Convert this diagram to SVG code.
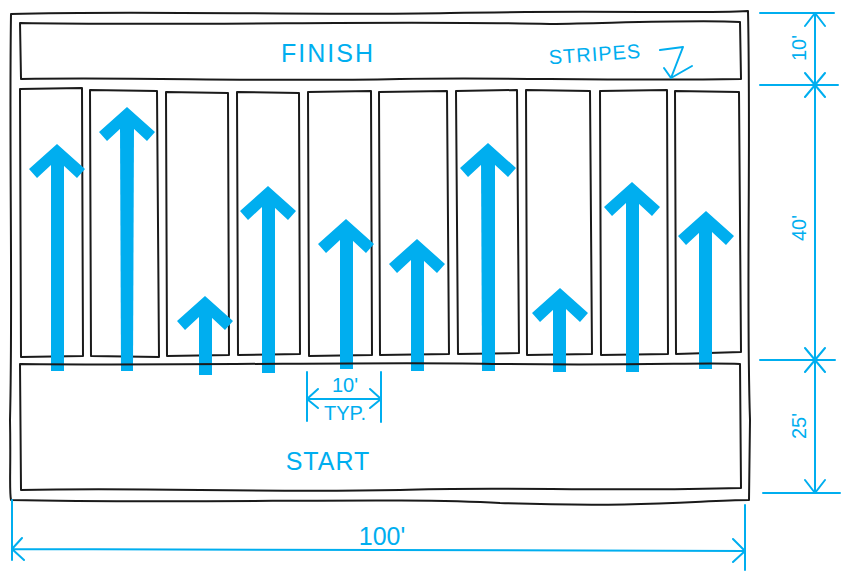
<svg xmlns="http://www.w3.org/2000/svg" width="843" height="571" viewBox="0 0 843 571">
<style>
.sk{fill:none;stroke:#1a1a1a;stroke-width:2;stroke-linejoin:round;stroke-linecap:round}
.ar{fill:#00aeef;stroke:none}
.dm{fill:none;stroke:#00aeef;stroke-width:2;stroke-linecap:round;stroke-linejoin:round}
.tx{fill:#00aeef;font-family:"Liberation Sans",Arial,sans-serif;font-size:25px}
.sm{fill:#00aeef;font-family:"Liberation Sans",Arial,sans-serif;font-size:20px}
</style>
<defs>
<path id="head" d="M0,-1 L28,24 L20,33 L6,20 L-6,20 L-20,33 L-28,24 Z"/>
</defs>
<rect width="843" height="571" fill="#fff"/>
<g id="frame">
<path class="sk" d="M11,14 C150,10 300,16 450,13 C600,10 700,14 748,11 M11,14 C9,150 13,300 10,420 C11,470 9,490 11,500 M748,11 C751,150 746,300 750,420 L749,500 M11,500 C200,504 400,497 500,503 C650,508 700,500 749,500"/>
</g>
<g id="finish">
<path class="sk" d="M20,23 C200,26 400,20 550,24 C650,22 700,20 740,22 L741,79 C600,81 500,77 400,79 C250,82 150,77 21,79 Z"/>
<text class="tx" x="328" y="62" text-anchor="middle" letter-spacing="2">FINISH</text>
</g>
<g id="stripes-label">
<text class="sm" x="595" y="61" text-anchor="middle" letter-spacing="1" transform="rotate(-4 595 55)">STRIPES</text>
<path class="dm" d="M660,50 L683,47 L671,78 M664,68 L671,78 L692,66"/>
</g>
<g id="stripe1"><path class="sk" d="M20,89 L82,88 L83,356 L21,357 Z"/><rect class="ar" x="51" y="160" width="13" height="211"/><use href="#head" class="ar" transform="translate(57,145)"/></g>
<g id="stripe2"><path class="sk" d="M90,90 L157,91 L159,357 L91,356 Z"/><path class="ar" d="M120,125 L134,125 L133,371 L121,371 Z"/><use href="#head" class="ar" transform="translate(127,108)"/></g>
<g id="stripe3"><path class="sk" d="M166,92 L228,93 L229,355 L167,356 Z"/><rect class="ar" x="199" y="313" width="13" height="62"/><use href="#head" class="ar" transform="translate(205,297)"/></g>
<g id="stripe4"><path class="sk" d="M237,92 L299,93 L300,354 L238,355 Z"/><rect class="ar" x="262" y="203" width="13" height="170"/><use href="#head" class="ar" transform="translate(268,187)"/></g>
<g id="stripe5"><path class="sk" d="M308,92 L371,91 L372,355 L309,356 Z"/><rect class="ar" x="340" y="236" width="13" height="133"/><use href="#head" class="ar" transform="translate(346,220)"/></g>
<g id="stripe6"><path class="sk" d="M379,92 L447,91 L449,354 L380,355 Z"/><rect class="ar" x="411" y="256" width="13" height="115"/><use href="#head" class="ar" transform="translate(417,240)"/></g>
<g id="stripe7"><path class="sk" d="M456,91 L517,90 L519,353 L458,354 Z"/><path class="ar" d="M481,160 L495,160 L495,371 L482,371 Z"/><use href="#head" class="ar" transform="translate(488,144)"/></g>
<g id="stripe8"><path class="sk" d="M526,90 L590,91 L592,354 L527,355 Z"/><rect class="ar" x="553" y="305" width="13" height="67"/><use href="#head" class="ar" transform="translate(560,289)"/></g>
<g id="stripe9"><path class="sk" d="M600,91 L667,90 L668,354 L601,355 Z"/><rect class="ar" x="626" y="199" width="13" height="173"/><use href="#head" class="ar" transform="translate(632,183)"/></g>
<g id="stripe10"><path class="sk" d="M675,91 L739,92 L741,352 L676,354 Z"/><rect class="ar" x="699" y="228" width="13" height="141"/><use href="#head" class="ar" transform="translate(706,212)"/></g>
<g id="start">
<path class="sk" d="M20,364 C200,366 400,361 500,364 C650,366 700,362 740,364 L741,488 C600,492 500,486 400,490 C250,493 150,487 21,490 Z"/>
<text class="tx" x="328" y="470" text-anchor="middle" letter-spacing="1">START</text>
</g>
<g id="connectors">
<path class="dm" d="M760,13 L834,13 M760,85 L838,85 M760,360 L835,360 M763,493 L840,493 M815,13 L815,493"/>
<path class="dm" d="M805,26 L815,13 L825,26 M805,73 L825,97 M825,73 L805,97 M805,348 L825,372 M825,348 L805,372 M805,480 L815,493 L825,480"/>
<text class="sm" transform="translate(806,48) rotate(-90)" text-anchor="middle">10'</text>
<text class="sm" transform="translate(806,228) rotate(-90)" text-anchor="middle">40'</text>
<text class="sm" transform="translate(806,426) rotate(-90)" text-anchor="middle">25'</text>
<path class="dm" d="M12,500 L12,560 M745,505 L745,570 M12,549 L745,551 M22,538 L12,549 L24,560 M733,539 L745,551 L733,562"/>
<text class="tx" x="382" y="545" text-anchor="middle">100'</text>
<path class="dm" d="M307,372 L307,421 M381,372 L381,422 M307,399 L381,399 M318,389 L307,399 L318,408 M370,389 L381,399 L370,408"/>
<text class="sm" x="345" y="392" text-anchor="middle">10'</text>
<text class="sm" x="345" y="420" text-anchor="middle" font-size="16">TYP.</text>
</g>
</svg>
